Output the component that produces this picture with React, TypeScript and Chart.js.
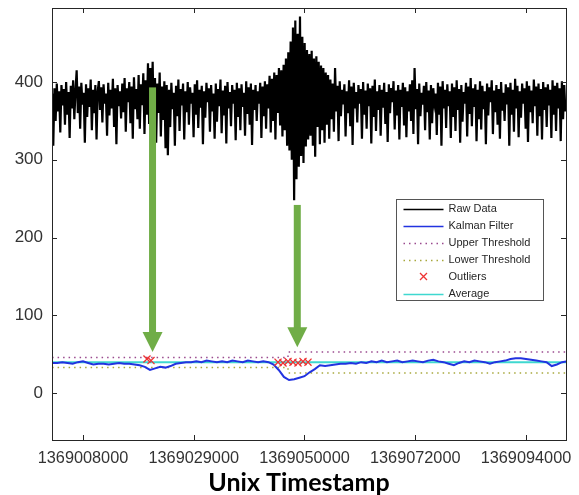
import React, { useEffect, useRef } from 'react';
import { Chart, registerables } from 'chart.js';

Chart.register(...registerables);

// ---- axis ranges / ticks ----
const xMin = 1369001980;
const xMax = 1369101770;
const yMin = -60;
const yMax = 495;
const xTickValues = [1369008000, 1369029500, 1369051000, 1369072500, 1369094000];
const xTickLabels = ['1369008000', '1369029000', '1369050000', '1369072000', '1369094000'];
const yTickValues = [0, 100, 200, 300, 400];

// ---- raw data (sampled every rawStep seconds from rawStart) ----
const rawStart = 1369002000;
const rawStep = 227;
const rawData = [
  385, 318, 392, 350, 398, 362, 388, 335, 396, 370, 391, 345, 400, 358, 387, 328, 395, 366, 402, 352,
  389, 415, 360, 394, 340, 399, 371, 386, 322, 397, 355, 392, 368, 403, 338, 390, 360, 396, 326, 388,
  401, 364, 393, 348, 397, 372, 385, 331, 399, 357, 390, 366, 404, 342, 392, 320, 396, 369, 388, 353,
  398, 361, 405, 336, 392, 374, 400, 347, 394, 327, 406, 365, 391, 352, 409, 340, 397, 370, 411, 333,
  402, 358, 424, 346, 418, 366, 426, 338, 405, 322, 398, 360, 412, 330, 394, 351, 401, 315, 396, 306,
  390, 342, 399, 365, 386, 318, 395, 356, 403, 337, 391, 370, 398, 326, 388, 361, 400, 345, 393, 372,
  386, 329, 397, 358, 402, 341, 390, 367, 395, 320, 388, 354, 399, 374, 392, 336, 396, 362, 385, 327,
  398, 349, 391, 369, 403, 334, 389, 357, 395, 321, 400, 366, 387, 343, 396, 372, 390, 325, 399, 355,
  392, 338, 397, 368, 386, 331, 401, 359, 393, 345, 398, 319, 390, 364, 396, 350, 388, 372, 399, 328,
  394, 356, 401, 340, 397, 366, 408, 335, 404, 350, 412, 326, 409, 360, 418, 344, 415, 330, 422, 338,
  430, 318, 438, 312, 452, 300, 470, 248, 479, 275, 462, 291, 484, 305, 458, 296, 450, 317, 441, 326,
  436, 331, 440, 318, 430, 304, 433, 342, 426, 320, 421, 338, 418, 322, 412, 345, 409, 327, 403, 352,
  398, 336, 418, 362, 395, 324, 401, 356, 390, 371, 397, 330, 388, 360, 402, 343, 394, 319, 399, 366,
  387, 348, 396, 372, 391, 327, 400, 358, 389, 340, 398, 369, 392, 321, 395, 355, 403, 337, 388, 364,
  396, 331, 390, 367, 399, 346, 387, 323, 397, 360, 392, 374, 401, 339, 389, 357, 396, 326, 390, 368,
  399, 344, 393, 329, 388, 362, 397, 350, 402, 333, 418, 365, 391, 320, 398, 356, 386, 371, 395, 338,
  400, 361, 389, 326, 396, 347, 392, 373, 385, 332, 399, 358, 394, 318, 401, 366, 390, 341, 397, 369,
  388, 328, 398, 355, 393, 337, 402, 364, 391, 322, 396, 349, 387, 372, 399, 330, 394, 359, 405, 343,
  392, 368, 397, 324, 390, 352, 401, 339, 395, 365, 388, 320, 398, 357, 393, 374, 402, 333, 389, 361,
  396, 345, 391, 327, 400, 363, 386, 350, 397, 371, 393, 318, 399, 358, 390, 336, 404, 366, 395, 329,
  388, 354, 398, 372, 392, 340, 401, 323, 395, 361, 389, 347, 403, 369, 394, 331, 398, 356, 391, 326,
  400, 364, 393, 342, 397, 370, 390, 328, 402, 358, 395, 337, 399, 366, 392, 324, 401, 352, 396, 362,
];

// ---- Kalman filter (sampled every kalmanStep seconds) ----
const kalmanStart = 1369002000;
const kalmanStep = 1000;
const kalmanData = [
  39, 39, 40, 39, 38, 40, 41, 39, 37, 38,
  38, 37, 38, 39, 38, 38, 37, 36, 34, 30,
  32, 34, 33, 35, 38, 39, 40, 40, 41, 40,
  42, 41, 40, 41, 40, 42, 41, 40, 42, 41,
  40, 41, 40, 37, 30, 21, 17, 18, 20, 22,
  27, 31, 36, 35, 36, 37, 38, 38, 39, 38,
  40, 39, 41, 40, 42, 40, 41, 42, 40, 41,
  42, 41, 40, 42, 43, 41, 40, 38, 36, 39,
  41, 40, 42, 41, 40, 38, 40, 41, 42, 44,
  45, 45, 44, 43, 42, 41, 40, 35, 37, 40, 41,
];

// ---- thresholds ----
const thresholdTimes = [1369002000, 1369047800, 1369101770];
const upperThreshold = [46, 53, 53];
const lowerThreshold = [33, 26, 26];

// ---- average ----
const averageTimes = [1369002000, 1369101770];
const averageValues = [40, 40];

// ---- outliers ----
const outlierTimes = [1369020420, 1369021200, 1369045860, 1369046830, 1369047800, 1369048770, 1369049740, 1369050710, 1369051680];
const outlierValues = [44, 42, 40, 39, 41, 40, 39, 41, 40];

// ---- annotation arrows ----
const arrowTimes = [1369021500, 1369049600];
const arrowTops = [393, 242];
const arrowTips = [53, 59];

const legendOrder = ['Raw Data', 'Kalman Filter', 'Upper Threshold', 'Lower Threshold', 'Outliers', 'Average'];

const framePlugin = {
  id: 'matlabFrame',
  afterDraw(chart: any) {
    const { ctx, chartArea: ca, scales } = chart;
    const xs = scales.x;
    const ys = scales.y;
    ctx.save();

    // arrows
    ctx.fillStyle = '#70ad47';
    arrowTimes.forEach((t, i) => {
      const px = xs.getPixelForValue(t);
      const top = ys.getPixelForValue(arrowTops[i]);
      const tip = ys.getPixelForValue(arrowTips[i]);
      const headLen = 20;
      const shaftHalf = 3.5;
      const headHalf = 10;
      ctx.fillRect(px - shaftHalf, top, shaftHalf * 2, tip - headLen - top + 1);
      ctx.beginPath();
      ctx.moveTo(px - headHalf, tip - headLen);
      ctx.lineTo(px + headHalf, tip - headLen);
      ctx.lineTo(px, tip);
      ctx.closePath();
      ctx.fill();
    });

    // frame
    ctx.strokeStyle = '#262626';
    ctx.lineWidth = 1;
    ctx.strokeRect(Math.round(ca.left) + 0.5, Math.round(ca.top) + 0.5, Math.round(ca.right - ca.left), Math.round(ca.bottom - ca.top));

    // inside ticks
    const tl = 5;
    ctx.beginPath();
    xTickValues.forEach((v) => {
      const p = Math.round(xs.getPixelForValue(v)) + 0.5;
      ctx.moveTo(p, ca.bottom);
      ctx.lineTo(p, ca.bottom - tl);
      ctx.moveTo(p, ca.top);
      ctx.lineTo(p, ca.top + tl);
    });
    yTickValues.forEach((v) => {
      const p = Math.round(ys.getPixelForValue(v)) + 0.5;
      ctx.moveTo(ca.left, p);
      ctx.lineTo(ca.left + tl, p);
      ctx.moveTo(ca.right, p);
      ctx.lineTo(ca.right - tl, p);
    });
    ctx.stroke();

    // legend
    const bl = Math.round(ca.right - 170) + 0.5;
    const bt = Math.round(ca.top + 191) + 0.5;
    const bw = 147;
    const bh = 101;
    ctx.fillStyle = '#ffffff';
    ctx.fillRect(bl, bt, bw, bh);
    ctx.strokeStyle = '#555555';
    ctx.strokeRect(bl, bt, bw, bh);
    ctx.font = '11px "Liberation Sans", Arial, sans-serif';
    ctx.textBaseline = 'middle';
    ctx.textAlign = 'left';
    legendOrder.forEach((label, k) => {
      const ds = chart.data.datasets.find((d: any) => d.label === label);
      if (!ds) return;
      const cy = bt + 9 + 17 * k;
      const x0 = bl + 7;
      const x1 = bl + 47;
      ctx.save();
      if (ds.showLine === false) {
        const cx = (x0 + x1) / 2;
        const r = 3.5;
        ctx.strokeStyle = ds.borderColor;
        ctx.lineWidth = ds.borderWidth;
        ctx.beginPath();
        ctx.moveTo(cx - r, cy - r);
        ctx.lineTo(cx + r, cy + r);
        ctx.moveTo(cx + r, cy - r);
        ctx.lineTo(cx - r, cy + r);
        ctx.stroke();
      } else {
        ctx.strokeStyle = ds.borderColor;
        ctx.lineWidth = Math.min(ds.borderWidth, 1.5);
        ctx.setLineDash(ds.borderDash || []);
        ctx.beginPath();
        ctx.moveTo(x0, Math.round(cy) + 0.5);
        ctx.lineTo(x1, Math.round(cy) + 0.5);
        ctx.stroke();
      }
      ctx.restore();
      ctx.fillStyle = '#262626';
      ctx.fillText(label, bl + 52, cy + 0.5);
    });

    // axis title
    ctx.fillStyle = '#000000';
    ctx.font = 'bold 25px Lato, "Open Sans", sans-serif';
    ctx.textAlign = 'center';
    ctx.textBaseline = 'middle';
    ctx.fillText('Unix Timestamp', (ca.left + ca.right) / 2 - 10, chart.height - 12);
    ctx.restore();
  },
};

export default function App() {
  const canvasRef = useRef<HTMLCanvasElement | null>(null);

  useEffect(() => {
    document.body.style.margin = '0';
    const canvas = canvasRef.current;
    if (!canvas) return;

    const toPts = (start: number, step: number, vals: number[]) =>
      vals.map((y, i) => ({ x: start + i * step, y }));
    const zip = (xsArr: number[], ysArr: number[]) => xsArr.map((x, i) => ({ x, y: ysArr[i] }));

    const chart = new Chart(canvas, {
      type: 'line',
      data: {
        datasets: [
          {
            label: 'Raw Data',
            data: toPts(rawStart, rawStep, rawData),
            borderColor: '#000000',
            borderWidth: 2.2,
            pointRadius: 0,
            order: 5,
          },
          {
            label: 'Kalman Filter',
            data: toPts(kalmanStart, kalmanStep, kalmanData),
            borderColor: '#2233e0',
            borderWidth: 2,
            pointRadius: 0,
            order: 1,
          },
          {
            label: 'Upper Threshold',
            data: zip(thresholdTimes, upperThreshold),
            borderColor: '#9a4a8e',
            borderWidth: 1.5,
            borderDash: [1.5, 4],
            stepped: true,
            pointRadius: 0,
            order: 3,
          },
          {
            label: 'Lower Threshold',
            data: zip(thresholdTimes, lowerThreshold),
            borderColor: '#a8a83c',
            borderWidth: 1.5,
            borderDash: [1.5, 4],
            stepped: true,
            pointRadius: 0,
            order: 4,
          },
          {
            label: 'Outliers',
            data: zip(outlierTimes, outlierValues),
            borderColor: '#ee3333',
            backgroundColor: '#ee3333',
            borderWidth: 1.3,
            showLine: false,
            pointStyle: 'crossRot',
            pointRadius: 5,
            order: 0,
          },
          {
            label: 'Average',
            data: zip(averageTimes, averageValues),
            borderColor: '#3fd8d0',
            borderWidth: 2,
            pointRadius: 0,
            order: 2,
          },
        ],
      },
      options: {
        responsive: false,
        animation: false,
        events: [],
        layout: { padding: { left: 0, right: 13, top: 8, bottom: 0 } },
        plugins: { legend: { display: false }, tooltip: { enabled: false } },
        scales: {
          x: {
            type: 'linear',
            min: xMin,
            max: xMax,
            grid: { display: false, drawTicks: false },
            border: { display: false },
            afterBuildTicks: (s: any) => {
              s.ticks = xTickValues.map((v) => ({ value: v }));
            },
            afterFit: (s: any) => {
              s.height = 55;
              s.paddingLeft = 0;
              s.paddingRight = 0;
              s.paddingTop = 0;
              s.paddingBottom = 0;
            },
            ticks: {
              autoSkip: false,
              maxRotation: 0,
              minRotation: 0,
              padding: 9,
              color: '#333333',
              font: { family: '"Liberation Sans", Arial, sans-serif', size: 16.3 },
              callback: (v: any) => {
                const idx = xTickValues.indexOf(Number(v));
                return idx >= 0 ? xTickLabels[idx] : '';
              },
            },
          },
          y: {
            type: 'linear',
            min: yMin,
            max: yMax,
            grid: { display: false, drawTicks: false },
            border: { display: false },
            afterBuildTicks: (s: any) => {
              s.ticks = yTickValues.map((v) => ({ value: v }));
            },
            afterFit: (s: any) => {
              s.width = 52;
              s.paddingLeft = 0;
              s.paddingRight = 0;
              s.paddingTop = 0;
              s.paddingBottom = 0;
            },
            ticks: {
              padding: 9,
              color: '#333333',
              font: { family: '"Liberation Sans", Arial, sans-serif', size: 17 },
              callback: (v: any) => String(v),
            },
          },
        },
      },
      plugins: [framePlugin],
    });

    return () => chart.destroy();
  }, []);

  return (
    <div style={{ width: 579, height: 495, background: '#ffffff' }}>
      <canvas ref={canvasRef} width={579} height={495} />
    </div>
  );
}
